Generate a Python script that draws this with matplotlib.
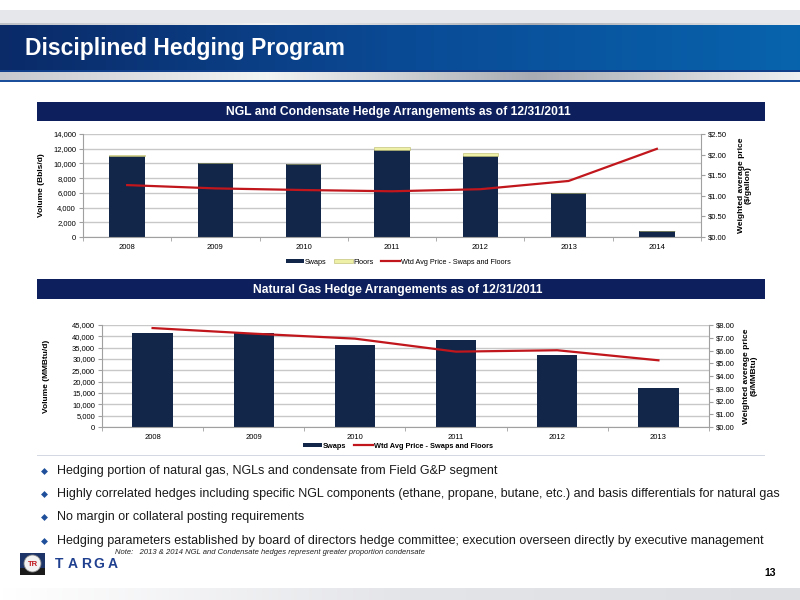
import matplotlib
matplotlib.use("Agg")
import matplotlib.pyplot as plt
import numpy as np
from matplotlib.patches import Rectangle, Circle

plt.rcParams['font.family'] = ['Liberation Sans', 'DejaVu Sans']

# NGL and condensate hedges
ngl_years = ['2008', '2009', '2010', '2011', '2012', '2013', '2014']
ngl_swaps = [11000, 10000, 9900, 11800, 11000, 6000, 800]
ngl_floors = [100, 0, 0, 400, 400, 0, 0]
ngl_price = [1.26, 1.18, 1.14, 1.11, 1.16, 1.36, 2.14]

# Natural gas hedges
gas_years = ['2008', '2009', '2010', '2011', '2012', '2013']
gas_swaps = [41600, 41400, 36300, 38600, 31900, 17200]
gas_price = [7.76, 7.32, 6.93, 5.91, 6.02, 5.23]

bullets = [
    'Hedging portion of natural gas, NGLs and condensate from Field G&P segment',
    'Highly correlated hedges including specific NGL components (ethane, propane, butane, etc.) and basis differentials for natural gas',
    'No margin or collateral posting requirements',
    'Hedging parameters established by board of directors hedge committee; execution overseen directly by executive management',
]

NAVY = '#12264a'
FLOOR = '#eef0a8'
RED = '#c0161c'
BAR_TITLE = '#0d1f5c'
W, H = 800, 600


def box(x0, y0, x1, y1):
    return [x0 / W, 1 - y1 / H, (x1 - x0) / W, (y1 - y0) / H]


fig = plt.figure(figsize=(8, 6), dpi=100)
bg = fig.add_axes([0, 0, 1, 1])
bg.set_xlim(0, W)
bg.set_ylim(H, 0)
bg.axis('off')

# header bands
bg.add_patch(Rectangle((0, 10), W, 13, color='#e6e7ea', lw=0))
grad = np.linspace(0, 1, 256).reshape(1, -1)
bg.imshow(grad, extent=(0, W, 71, 24), aspect='auto',
          cmap=matplotlib.colors.LinearSegmentedColormap.from_list('hb', ['#0b2a68', '#0a4a95', '#0863ad']))
bg.imshow(grad, extent=(0, W, 25, 21), aspect='auto',
          cmap=matplotlib.colors.LinearSegmentedColormap.from_list('g1', ['#bfc2c7', '#f2f2f2', '#a9adb3', '#e9eaec']))
bg.add_patch(Rectangle((0, 70), W, 2, color='#123f8a', lw=0))
bg.imshow(grad, extent=(0, W, 80, 72), aspect='auto',
          cmap=matplotlib.colors.LinearSegmentedColormap.from_list('g2', ['#c7cacf', '#f4f4f4', '#a9adb3', '#eeeff1']))
bg.add_patch(Rectangle((0, 80), W, 2, color='#1b4f9c', lw=0))
bg.text(25, 48, 'Disciplined Hedging Program', color='white', fontsize=16.5, fontweight='bold',
        va='center', ha='left')

# chart title bars
bg.add_patch(Rectangle((37, 102), 728, 19, color=BAR_TITLE, lw=0))
bg.text(398, 111.5, 'NGL and Condensate Hedge Arrangements as of 12/31/2011', color='white',
        fontsize=8.7, fontweight='bold', ha='center', va='center')
bg.add_patch(Rectangle((37, 279), 728, 20, color=BAR_TITLE, lw=0))
bg.text(398, 290, 'Natural Gas Hedge Arrangements as of 12/31/2011', color='white',
        fontsize=8.7, fontweight='bold', ha='center', va='center')
bg.add_patch(Rectangle((37, 455), 728, 1.2, color='#d3d8e3', lw=0))

# bottom band
bg.imshow(grad, extent=(0, W, 600, 588), aspect='auto',
          cmap=matplotlib.colors.LinearSegmentedColormap.from_list('g3', ['#ffffff', '#e4e5e9', '#dedfe3']))


def style_axes(ax, ax2):
    ax.set_facecolor('none')
    ax.grid(axis='y', color='#c8c8c8', lw=1)
    ax.set_axisbelow(True)
    for s in ['top', 'right']:
        ax.spines[s].set_visible(False)
    for s in ['top', 'left', 'bottom']:
        ax2.spines[s].set_visible(False)
    ax.spines['left'].set_color('#a0a0a0')
    ax.spines['bottom'].set_color('#a0a0a0')
    ax2.spines['right'].set_color('#a0a0a0')
    ax.tick_params(labelsize=5.5, length=3, color='#a0a0a0', pad=2)
    ax2.tick_params(labelsize=5.5, length=3, color='#a0a0a0', pad=2)
    ax.tick_params(axis='x', length=0, pad=5)


# NGL chart
ax1 = fig.add_axes(box(83, 134, 701, 237))
x1 = np.arange(len(ngl_years))
b1 = ax1.bar(x1, ngl_swaps, 0.4, color=NAVY, label='Swaps')
b2 = ax1.bar(x1, ngl_floors, 0.4, bottom=ngl_swaps, color=FLOOR, edgecolor='#b8b86a', lw=0.4, label='Floors')
ax1.set_ylim(0, 14000)
ax1.set_yticks(np.arange(0, 14001, 2000))
ax1.set_yticklabels(['{:,}'.format(v) for v in range(0, 14001, 2000)])
ax1.set_xlim(-0.5, len(ngl_years) - 0.5)
ax1.set_xticks(x1)
ax1.set_xticklabels(ngl_years)
ax1.set_xticks(np.arange(-0.5, len(ngl_years)), minor=True)
ax1.tick_params(axis='x', which='minor', length=3, color='#a0a0a0')
ax1.set_ylabel('Volume (Bbls/d)', fontsize=6, fontweight='bold', labelpad=6)
a1r = ax1.twinx()
l1, = a1r.plot(x1, ngl_price, color=RED, lw=1.6, label='Wtd Avg Price - Swaps and Floors')
a1r.set_ylim(0, 2.5)
a1r.set_yticks(np.arange(0, 2.51, 0.5))
a1r.set_yticklabels(['${:.2f}'.format(v) for v in np.arange(0, 2.51, 0.5)])
a1r.set_ylabel('Weighted average price\n($/gallon)', fontsize=6, fontweight='bold', labelpad=8, linespacing=1.0)
style_axes(ax1, a1r)
fig.legend([b1, b2, l1], ['Swaps', 'Floors', 'Wtd Avg Price - Swaps and Floors'],
           loc='center', bbox_to_anchor=(398 / W, 1 - 262 / H), ncol=3, frameon=False,
           fontsize=5.2, handlelength=2.6, handleheight=0.6, columnspacing=1.0, handletextpad=0.1)

# natural gas chart
ax2 = fig.add_axes(box(102, 325, 709, 427))
x2 = np.arange(len(gas_years))
c1 = ax2.bar(x2, gas_swaps, 0.4, color=NAVY, label='Swaps')
ax2.set_ylim(0, 45000)
ax2.set_yticks(np.arange(0, 45001, 5000))
ax2.set_yticklabels(['{:,}'.format(v) for v in range(0, 45001, 5000)])
ax2.set_xlim(-0.5, len(gas_years) - 0.5)
ax2.set_xticks(x2)
ax2.set_xticklabels(gas_years)
ax2.set_xticks(np.arange(-0.5, len(gas_years)), minor=True)
ax2.tick_params(axis='x', which='minor', length=3, color='#a0a0a0')
ax2.set_ylabel('Volume (MMBtu/d)', fontsize=6, fontweight='bold', labelpad=16)
a2r = ax2.twinx()
l2, = a2r.plot(x2, gas_price, color=RED, lw=1.6)
a2r.set_ylim(0, 8)
a2r.set_yticks(np.arange(0, 8.01, 1))
a2r.set_yticklabels(['${:.2f}'.format(v) for v in np.arange(0, 8.01, 1)])
a2r.set_ylabel('Weighted average price\n($/MMBtu)', fontsize=6, fontweight='bold', labelpad=6, linespacing=1.0)
style_axes(ax2, a2r)
fig.legend([c1, l2], ['Swaps', 'Wtd Avg Price - Swaps and Floors'],
           loc='center', bbox_to_anchor=(398 / W, 1 - 446 / H), ncol=2, frameon=False,
           prop={'size': 5.3, 'weight': 'bold'}, handlelength=2.6, handleheight=0.6,
           columnspacing=1.0, handletextpad=0.1)

# bullets
for i, t in enumerate(bullets):
    y = 471 + i * 23.2
    bg.plot(44, y, marker='D', ms=3.5, color='#1f4f9a', mec='none')
    bg.text(57, y, t, fontsize=9.0, va='center', ha='left', color='#1a1a1a')

bg.text(115, 552, 'Note:   2013 & 2014 NGL and Condensate hedges represent greater proportion condensate',
        fontsize=5.5, style='italic', va='center', ha='left', color='#222222')

# logo
bg.add_patch(Rectangle((20, 553), 25, 22, color='#1c3468', lw=0))
bg.add_patch(Rectangle((20, 568), 25, 7, color='#1a1a1a', lw=0))
bg.add_patch(Circle((32.5, 563.5), 8.5, color='#f2f2f2', ec='#888888', lw=0.6))
bg.text(32.5, 564, 'TR', color='#c0161c', fontsize=5.5, fontweight='bold', ha='center', va='center')
for k, ch in enumerate('TARGA'):
    bg.text(59 + k * 13.4, 564, ch, color='#1f3f8f', fontsize=10, fontweight='bold', ha='center', va='center')

bg.text(776, 573, '13', fontsize=7.5, fontweight='bold', ha='right', va='center')

fig.savefig('out.png', dpi=100)
